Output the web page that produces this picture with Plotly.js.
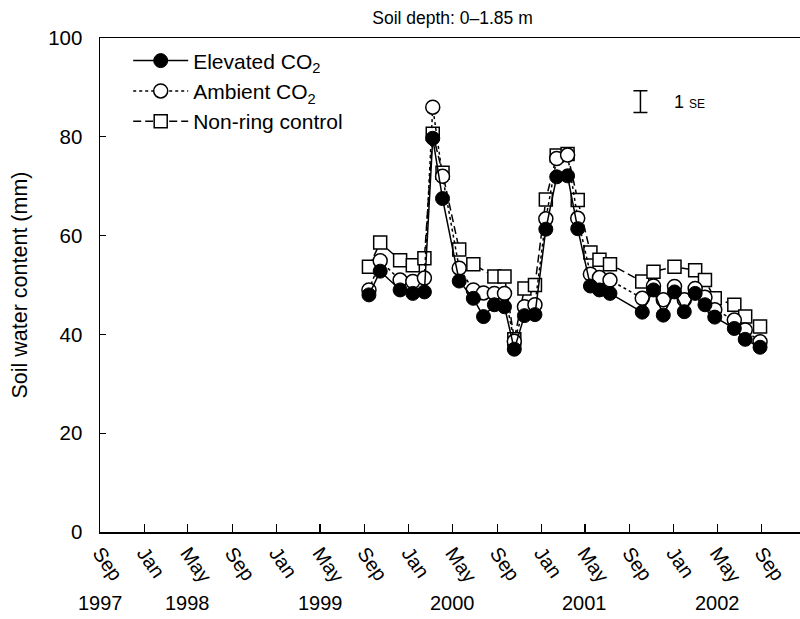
<!DOCTYPE html>
<html>
<head>
<meta charset="utf-8">
<script src="https://cdn.plot.ly/plotly-3.0.1.min.js"></script>
<style>
html,body{margin:0;padding:0;overflow:hidden;background:#fff;}
#chart{width:805px;height:619px;}
</style>
</head>
<body>
<div id="chart"></div>
<script>
// ---- data ----
const dates = ['1999-09-13','1999-10-14','1999-12-08','2000-01-12','2000-02-13','2000-03-07','2000-04-03','2000-05-19','2000-06-27','2000-07-25','2000-08-24','2000-09-21','2000-10-18','2000-11-15','2000-12-14','2001-01-13','2001-02-12','2001-03-14','2001-04-11','2001-05-16','2001-06-10','2001-07-09','2001-10-06','2001-11-06','2001-12-03','2002-01-03','2002-01-30','2002-03-01','2002-03-28','2002-04-24','2002-06-17','2002-07-17','2002-08-27'];
const elevated = [48.0,52.8,49.0,48.3,48.6,79.7,67.5,50.8,47.3,43.6,46.0,45.6,37.0,43.8,44.0,61.3,71.9,72.1,61.4,49.8,49.0,48.3,44.5,49.0,43.9,48.6,44.6,48.3,46.0,43.5,41.2,39.0,37.4];
const ambient = [49.0,54.9,51.0,50.7,51.4,86.0,72.0,53.4,49.0,48.4,48.3,48.3,38.6,45.6,46.0,63.4,75.6,76.3,63.5,52.2,51.5,51.0,47.3,49.8,47.0,49.7,47.0,49.3,47.5,45.0,42.9,40.9,38.5];
const nonRing = [53.7,58.6,55.0,54.0,55.4,80.6,72.7,57.2,54.2,null,51.7,51.7,39.0,49.3,50.0,67.3,76.2,76.5,67.2,56.6,55.1,54.2,50.7,52.7,null,53.7,null,53.0,51.0,47.3,46.0,43.6,41.6];
const seriesNames = ['Elevated CO<sub>2</sub>','Ambient CO<sub>2</sub>','Non-ring control'];
const yearLabels = ['1997','1998','1999','2000','2001','2002'];
const yearLabelDates = ['1997-09-01','1998-05-01','1999-05-01','2000-05-01','2001-05-01','2002-05-01'];
const seKeyDate = ['2001-10-01'];
const seKeyCenter = [87.1];
const seHalf = [2.2];

const FONT = 'Liberation Sans, Arial, sans-serif';

const traces = [
  {x: dates, y: nonRing, name: seriesNames[2], type:'scatter', mode:'lines+markers', connectgaps:true,
   legendrank:3,
   line:{color:'#000', width:1.5, dash:'8px,4px'},
   marker:{symbol:'square', size:13, color:'#fff', line:{color:'#000', width:1.5}}},
  {x: dates, y: ambient, name: seriesNames[1], type:'scatter', mode:'lines+markers', connectgaps:true,
   legendrank:2,
   line:{color:'#000', width:1.5, dash:'dot'},
   marker:{symbol:'circle', size:14, color:'#fff', line:{color:'#000', width:1.5}}},
  {x: dates, y: elevated, name: seriesNames[0], type:'scatter', mode:'lines+markers',
   legendrank:1,
   line:{color:'#000', width:1.5},
   marker:{symbol:'circle', size:14, color:'#000', line:{color:'#000', width:1}}},
  {x: seKeyDate, y: seKeyCenter, type:'scatter', mode:'markers', showlegend:false, hoverinfo:'skip',
   marker:{size:1, color:'rgba(0,0,0,0)'},
   error_y:{type:'data', array:seHalf, visible:true, color:'#000', thickness:1.5, width:7}}
];

const annotations = yearLabels.map((t,i)=>({
  text:t, x:yearLabelDates[i], xref:'x', y:-0.143, yref:'paper',
  showarrow:false, xanchor:'center', yanchor:'middle',
  font:{family:FONT, size:20, color:'#000'}
}));
annotations.push({
  text:'1 <span style="font-size:12px">SE</span>', x:0.812, xref:'paper', y:0.870, yref:'paper',
  showarrow:false, xanchor:'left', yanchor:'middle', font:{family:FONT, size:18, color:'#000'}
});

const layout = {
  width:805, height:619,
  margin:{l:100, r:0, t:38, b:87},
  paper_bgcolor:'#fff', plot_bgcolor:'#fff',
  font:{family:FONT, color:'#000', size:17},
  title:{text:'Soil depth: 0\u20131.85 m', x:0.5, xref:'paper', y:0.971, yref:'container', yanchor:'middle',
         font:{family:FONT, size:17.5, color:'#000'}},
  showlegend:true,
  legend:{x:0.04, xanchor:'left', y:0.995, yanchor:'top', itemwidth:55,
          font:{family:FONT, size:21, color:'#000'}, bgcolor:'rgba(0,0,0,0)', borderwidth:0},
  xaxis:{type:'date', range:['1997-09-01','2002-12-29'], tick0:'1997-09-01', dtick:'M4', tickformat:'%b',
         tickangle:55, ticks:'inside', ticklen:8, tickwidth:1.2, tickcolor:'#000',
         showline:true, linecolor:'#000', linewidth:1.5, mirror:true, showgrid:false, zeroline:false,
         tickfont:{family:FONT, size:20, color:'#000'}},
  yaxis:{range:[0,100], dtick:20, ticks:'inside', ticklen:6, tickwidth:1.2, tickcolor:'#000',
         showline:true, linecolor:'#000', linewidth:1.5, mirror:true, showgrid:false, zeroline:false,
         ticklabelstandoff:12,
         tickfont:{family:FONT, size:20.5, color:'#000'},
         title:{text:'Soil water content (mm)', standoff:14, font:{family:FONT, size:21.5, color:'#000'}}},
  annotations:annotations
};

Plotly.newPlot('chart', traces, layout, {displayModeBar:false, staticPlot:true});
</script>
</body>
</html>
